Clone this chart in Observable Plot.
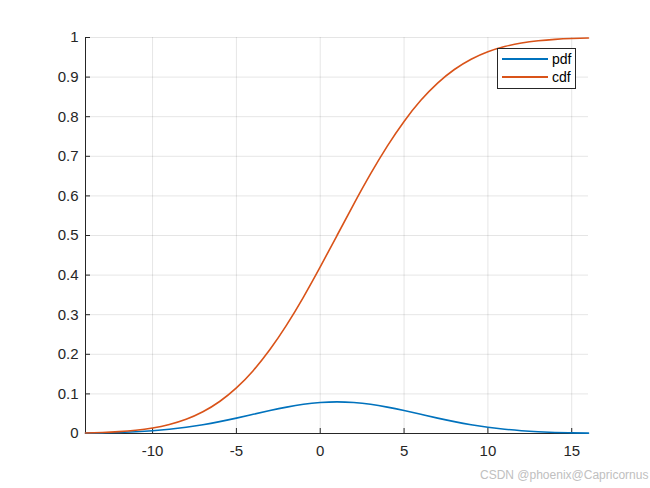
<!DOCTYPE html>
<html>
<head>
<meta charset="utf-8">
<script src="https://cdn.jsdelivr.net/npm/d3@7"></script>
<script src="https://cdn.jsdelivr.net/npm/@observablehq/plot@0.6"></script>
<style>
  html, body { margin: 0; padding: 0; background: #fff; }
  #wrap { position: relative; width: 650px; height: 488px; font-family: "Liberation Sans", Arial, sans-serif; }
  #legend { position: absolute; left: 497px; top: 48px; width: 79px; height: 41px; border: 1px solid #262626; background: #fff; box-sizing: border-box; font-size: 14px; color: #000; }
  .row { position: absolute; left: 4px; height: 18px; display: flex; align-items: center; }
  .sw { width: 46px; height: 0; border-top: 2px solid; margin-right: 4px; }
  #wm { position: absolute; left: 480px; top: 468px; font-size: 12px; color: #c0c0c0; white-space: nowrap; }
</style>
</head>
<body>
<div id="wrap"></div>
<script>
const xs = [-14,-13,-12,-11,-10,-9,-8,-7,-6,-5,-4,-3,-2,-1,0,1,2,3,4,5,6,7,8,9,10,11,12,13,14,15,16];
const pdfValues = [0.0009,0.0016,0.0027,0.0045,0.0071,0.0108,0.0158,0.0222,0.0300,0.0388,0.0484,0.0579,0.0666,0.0737,0.0782,0.0798,0.0782,0.0737,0.0666,0.0579,0.0484,0.0388,0.0300,0.0222,0.0158,0.0108,0.0071,0.0045,0.0027,0.0016,0.0009];
const cdfValues = [0.0013,0.0026,0.0047,0.0082,0.0139,0.0228,0.0359,0.0548,0.0808,0.1151,0.1587,0.2119,0.2743,0.3446,0.4207,0.5,0.5793,0.6554,0.7257,0.7881,0.8413,0.8849,0.9192,0.9452,0.9641,0.9772,0.9861,0.9918,0.9953,0.9974,0.9987];
const xTicks = [-10,-5,0,5,10,15];
const yTicks = [0,0.1,0.2,0.3,0.4,0.5,0.6,0.7,0.8,0.9,1];
const seriesNames = ["pdf","cdf"];
const seriesColors = ["#0072BD","#D95319"];

const pdfData = xs.map((x,i) => ({x, y: pdfValues[i]}));
const cdfData = xs.map((x,i) => ({x, y: cdfValues[i]}));

const chart = Plot.plot({
  width: 650, height: 488,
  marginLeft: 85, marginRight: 62, marginTop: 37, marginBottom: 55,
  style: {fontFamily: '"Liberation Sans", Arial, sans-serif', fontSize: "15px", color: "#262626", background: "#fff"},
  x: {domain: [-14, 16]},
  y: {domain: [0, 1]},
  marks: [
    Plot.ruleX(xTicks, {stroke: "#000", strokeOpacity: 0.1}),
    Plot.ruleY(yTicks.filter(d => d > 0), {stroke: "#000", strokeOpacity: 0.1}),
    Plot.axisX(xTicks, {tickSize: -5, tickPadding: 17, stroke: "#262626", fill: "#262626", tickFormat: d => d < 0 ? "-" + Math.abs(d) : String(d), fontSize: 15, label: null}),
    Plot.axisY(yTicks, {tickSize: -5, tickPadding: 12, stroke: "#262626", fill: "#262626", tickFormat: d => String(+d.toFixed(1)), fontSize: 15, label: null}),
    Plot.ruleX([-14], {stroke: "#262626"}),
    Plot.ruleY([0], {stroke: "#262626"}),
    Plot.line(pdfData, {x: "x", y: "y", stroke: seriesColors[0], strokeWidth: 1.6, curve: "natural"}),
    Plot.line(cdfData, {x: "x", y: "y", stroke: seriesColors[1], strokeWidth: 1.6, curve: "natural"})
  ]
});
const wrap = document.getElementById("wrap");
wrap.appendChild(chart);

const legend = document.createElement("div");
legend.id = "legend";
seriesNames.forEach((name, i) => {
  const row = document.createElement("div");
  row.className = "row";
  row.style.top = (1 + i * 18) + "px";
  const sw = document.createElement("span");
  sw.className = "sw";
  sw.style.borderTopColor = seriesColors[i];
  const t = document.createElement("span");
  t.textContent = name;
  row.appendChild(sw); row.appendChild(t);
  legend.appendChild(row);
});
wrap.appendChild(legend);

const wm = document.createElement("div");
wm.id = "wm";
wm.textContent = "CSDN @phoenix@Capricornus";
wrap.appendChild(wm);
</script>
</body>
</html>
